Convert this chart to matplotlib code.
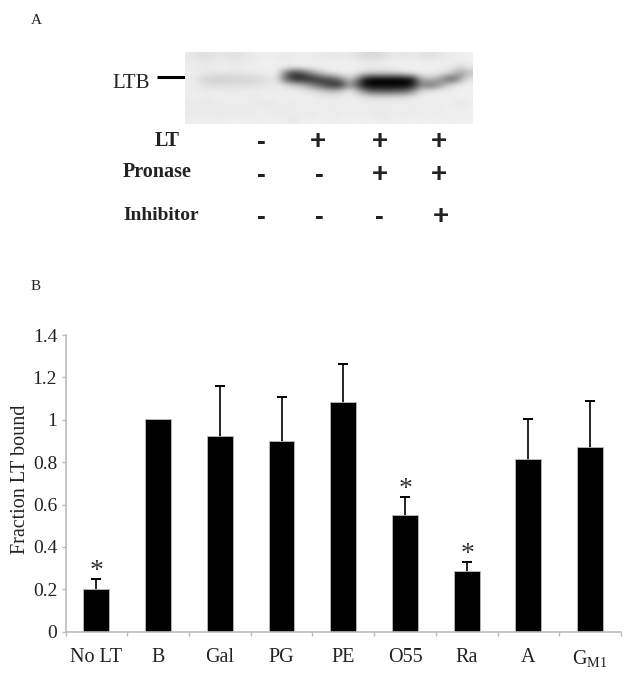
#!/usr/bin/env python3
"""Two-panel figure: LTB blot with +/- table (A), fraction LT bound bars (B)."""
import numpy as np

import matplotlib
matplotlib.use("Agg")
import matplotlib.pyplot as plt

W, H = 629, 673

categories = ["No LT", "B", "Gal", "PG", "PE", "O55", "Ra", "A", "G$_{\\mathrm{M1}}$"]
fraction = [0.20, 1.005, 0.925, 0.898, 1.084, 0.55, 0.285, 0.815, 0.873]
err_up = [0.05, 0.0, 0.235, 0.208, 0.181, 0.087, 0.042, 0.19, 0.217]
starred = ["No LT", "O55", "Ra"]
y_ticks = [0, 0.2, 0.4, 0.6, 0.8, 1, 1.2, 1.4]
y_labels = ["0", "0.2", "0.4", "0.6", "0.8", "1", "1.2", "1.4"]

row_names = ["LT", "Pronase", "Inhibitor"]
row_signs = [["-", "+", "+", "+"],
             ["-", "-", "+", "+"],
             ["-", "-", "-", "+"]]

# grey levels of the blot, read by eye (8 px columns, 6 px rows)
blot = np.array([
    [232, 226, 222, 226, 230, 226, 224, 230, 234, 236, 238, 236, 232, 236, 238, 236, 234, 232, 228, 232, 234, 222, 218, 214, 218, 226, 232, 228, 232, 226, 222, 226, 232, 236, 238, 240],
    [236, 232, 228, 230, 234, 230, 228, 234, 236, 238, 240, 238, 236, 238, 240, 238, 236, 238, 236, 238, 238, 234, 230, 228, 232, 236, 238, 236, 238, 236, 234, 236, 238, 238, 238, 240],
    [238, 236, 234, 234, 238, 236, 234, 238, 240, 240, 240, 240, 238, 236, 240, 240, 240, 240, 240, 240, 240, 238, 238, 236, 238, 238, 240, 240, 240, 240, 240, 238, 236, 232, 220, 232],
    [238, 234, 232, 230, 232, 230, 230, 232, 234, 234, 238, 236, 130, 60, 70, 125, 175, 210, 230, 238, 240, 232, 212, 208, 206, 208, 212, 228, 238, 240, 238, 236, 226, 200, 150, 190],
    [236, 228, 212, 208, 206, 208, 210, 210, 212, 216, 226, 226, 110, 45, 35, 35, 45, 65, 90, 135, 205, 140, 25, 0, 0, 0, 0, 0, 25, 170, 190, 170, 115, 85, 170, 228],
    [238, 232, 222, 220, 220, 222, 222, 224, 224, 226, 232, 236, 222, 205, 185, 150, 110, 70, 40, 40, 150, 85, 5, 0, 0, 0, 0, 0, 20, 130, 100, 130, 190, 226, 238, 240],
    [238, 236, 236, 234, 236, 236, 234, 236, 236, 238, 238, 238, 238, 238, 236, 228, 215, 200, 190, 205, 234, 200, 125, 90, 85, 85, 90, 100, 145, 215, 232, 238, 238, 238, 240, 240],
    [236, 238, 234, 238, 238, 236, 238, 238, 232, 238, 238, 236, 238, 238, 238, 238, 236, 234, 230, 236, 238, 236, 228, 222, 222, 222, 224, 226, 232, 238, 238, 240, 238, 238, 240, 238],
    [234, 236, 230, 236, 232, 238, 234, 236, 236, 234, 228, 236, 238, 234, 236, 238, 232, 238, 236, 234, 238, 236, 234, 238, 236, 238, 234, 238, 236, 238, 234, 238, 240, 236, 228, 238],
    [236, 232, 236, 230, 236, 234, 238, 232, 236, 238, 234, 238, 232, 236, 238, 234, 238, 236, 234, 238, 234, 238, 236, 232, 238, 234, 236, 238, 232, 238, 236, 234, 238, 240, 238, 240],
    [232, 236, 234, 238, 232, 236, 234, 238, 234, 236, 238, 232, 238, 234, 238, 232, 236, 238, 234, 236, 238, 234, 238, 236, 230, 236, 238, 234, 238, 236, 240, 236, 238, 238, 240, 238],
    [238, 240, 238, 236, 240, 238, 240, 238, 240, 236, 240, 238, 240, 228, 240, 238, 240, 238, 236, 240, 238, 240, 238, 240, 238, 236, 240, 238, 240, 238, 240, 238, 240, 238, 240, 240],
])

plt.rcParams["font.family"] = ["Liberation Serif", "DejaVu Serif"]
plt.rcParams["mathtext.fontset"] = "custom"
plt.rcParams["mathtext.rm"] = "Liberation Serif"
TXT = "#222222"


def box(left, top, right, bottom):
    return [left / W, 1 - bottom / H, (right - left) / W, (bottom - top) / H]


def main():
    fig = plt.figure(figsize=(W / 100, H / 100), dpi=100)
    page = fig.add_axes([0, 0, 1, 1])
    page.set_xlim(0, W)
    page.set_ylim(H, 0)
    page.axis("off")

    page.text(31, 20, "A", fontsize=11, color=TXT, ha="left", va="center")
    page.text(31, 287, "B", fontsize=11, color=TXT, ha="left", va="center")

    # panel A
    ax_blot = fig.add_axes(box(185, 52, 473, 124))
    ax_blot.imshow(blot, cmap="gray", vmin=0, vmax=255, aspect="auto",
                   interpolation="bicubic")
    ax_blot.axis("off")
    page.text(112, 83, "LTB", fontsize=15, color=TXT, ha="left", va="center")
    page.plot([157, 185], [77, 77], color="black", lw=2.2, solid_capstyle="butt")

    col_x = [[261, 318, 380, 439], [261, 319, 380, 439], [261, 319, 379, 441]]
    row_y = [142, 175, 217]
    name_x = [167, 123, 123]
    name_y = [141.5, 172, 215]
    name_size = [14.5, 14.5, 14]
    for r, name in enumerate(row_names):
        ha = "center" if name == "LT" else "left"
        page.text(name_x[r], name_y[r], name, fontsize=name_size[r], fontweight="bold",
                  color=TXT, ha=ha, va="center")
        for x, s in zip(col_x[r], row_signs[r]):
            page.text(x, row_y[r], s, fontsize=20 if s == "+" else 19, fontweight="bold",
                      family="Liberation Sans", color=TXT, ha="center", va="center")

    # panel B
    ax = fig.add_axes(box(65.5, 335, 621, 631.7))
    pos = np.arange(len(categories))
    ax.bar(pos, fraction, width=0.42, color="black", edgecolor="#bbbbbb", linewidth=0.6,
           zorder=2)
    for p, v, e, c in zip(pos, fraction, err_up, categories):
        if e > 0:
            ax.plot([p, p], [v, v + e], color="black", lw=1.2, zorder=1)
            ax.plot(p, v + e, marker="_", ms=7.5, mew=1.4, color="black", zorder=1)
        if c in starred:
            ax.annotate("*", (p, v + e), xytext=(0.5, 5.5), textcoords="offset points",
                        fontsize=20, color="#333333", ha="center", va="center")

    ax.set_xlim(-0.5, len(categories) - 0.5)
    ax.set_ylim(0, 1.4)
    ax.set_yticks(y_ticks)
    ax.set_yticklabels(y_labels)
    ax.set_xticks(pos, minor=True)
    ax.set_xticks(np.append(pos - 0.5, pos[-1] + 0.5))
    ax.set_xticklabels([])
    ax.set_xticklabels(categories, minor=True)
    ax.tick_params(axis="x", which="major", length=3, width=1, color="#bbbbbb")
    ax.tick_params(axis="x", which="minor", length=0, pad=12, labelsize=14.5,
                   labelcolor=TXT)
    ax.tick_params(axis="y", length=3, width=1, color="#bbbbbb", pad=3, labelsize=14,
                   labelcolor=TXT)
    for side in ["top", "right"]:
        ax.spines[side].set_visible(False)
    for side in ["left", "bottom"]:
        ax.spines[side].set_color("#bbbbbb")
        ax.spines[side].set_linewidth(1.2)
    ax.set_ylabel("Fraction LT bound", fontsize=14.5, color=TXT, labelpad=2, y=0.515)

    fig.savefig("out.png", dpi=100)


if __name__ == "__main__":
    main()
